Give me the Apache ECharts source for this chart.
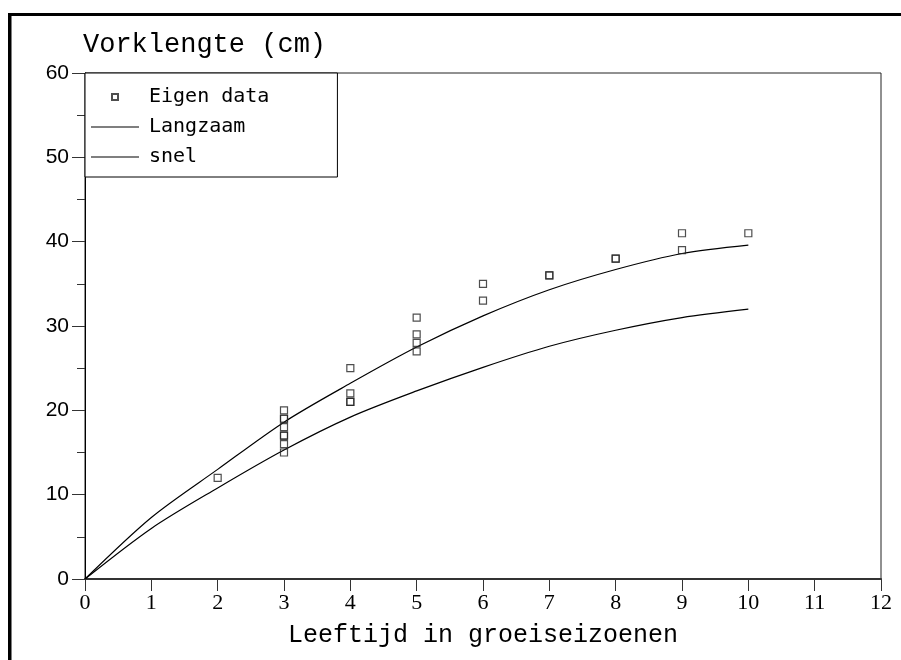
<!DOCTYPE html>
<html>
<head>
<meta charset="utf-8">
<script src="https://cdn.jsdelivr.net/npm/echarts@6/dist/echarts.min.js"></script>
<style>
  html, body { margin: 0; padding: 0; background: #fff; }
  #chart { width: 901px; height: 660px; }
</style>
</head>
<body>
<div id="chart"></div>
<script>
// Age in growing seasons
const ages = [0, 1, 2, 3, 4, 5, 6, 7, 8, 9, 10];
// Fork length (cm) of the two growth curves
const langzaam = [0, 7.3, 13.0, 18.6, 23.2, 27.5, 31.2, 34.3, 36.7, 38.6, 39.6];
const snel = [0, 6.0, 10.8, 15.3, 19.2, 22.3, 25.1, 27.6, 29.5, 31.0, 32.0];
// Own measurements: age and fork length
const eigenAge = [2, 3, 3, 3, 3, 3, 3, 3, 3, 4, 4, 4, 4, 5, 5, 5, 5, 6, 6, 7, 7, 8, 8, 9, 9, 10];
const eigenLen = [12, 20, 19, 19, 18, 17, 17, 16, 15, 25, 22, 21, 21, 31, 29, 28, 27, 35, 33, 36, 36, 38, 38, 41, 39, 41];
// Axis ticks
const xTicks = [0, 12, 1];
const yTicks = [0, 60, 10];

const chart = echarts.init(document.getElementById('chart'), null, { renderer: 'canvas' });

const curve = (arr) => ages.map((a, i) => [a, arr[i]]);
const points = eigenAge.map((a, i) => [a, eigenLen[i]]);

// thin horizontal bar used as the legend swatch for the curves
const lineIcon = 'path://M0,0M48,14M0,6.4L48,6.4L48,7.6L0,7.6Z';

chart.setOption({
  animation: false,
  backgroundColor: '#fff',
  title: {
    text: 'Vorklengte (cm)',
    left: 83,
    top: 31,
    padding: 0,
    textStyle: { fontFamily: 'Liberation Mono', fontSize: 27, fontWeight: 'normal', color: '#000' }
  },
  graphic: [
    { type: 'rect', shape: { x: 8, y: 13, width: 893, height: 3 }, style: { fill: '#000' }, silent: true },
    { type: 'rect', shape: { x: 8, y: 13, width: 3.5, height: 647 }, style: { fill: '#000' }, silent: true }
  ],
  grid: {
    left: 85, right: 20, top: 73, bottom: 81,
    show: true, borderColor: '#222', borderWidth: 1, backgroundColor: 'transparent'
  },
  legend: {
    orient: 'vertical',
    left: 85, top: 73,
    padding: [14, 68, 10, 5],
    itemGap: 10,
    itemWidth: 48,
    itemHeight: 14,
    borderColor: '#000',
    borderWidth: 1,
    backgroundColor: '#fff',
    textStyle: { fontFamily: 'DejaVu Sans Mono', fontSize: 20, color: '#000', padding: [0, 0, 0, 5], lineHeight: 20 },
    data: [
      { name: 'Eigen data', icon: 'path://M0,0M48,14M21,4L27,4L27,10L21,10Z' },
      { name: 'Langzaam', icon: lineIcon, itemStyle: { color: '#000' } },
      { name: 'snel', icon: lineIcon, itemStyle: { color: '#000' } }
    ]
  },
  xAxis: {
    type: 'value',
    min: xTicks[0], max: xTicks[1], interval: xTicks[2],
    name: 'Leeftijd in groeiseizoenen',
    nameLocation: 'middle',
    nameGap: 44,
    nameTextStyle: { fontFamily: 'Liberation Mono', fontSize: 25, color: '#000' },
    axisLine: { show: true, onZero: false, lineStyle: { color: '#333', width: 2 } },
    axisTick: { show: true, inside: false, length: 12, lineStyle: { color: '#333', width: 1 } },
    axisLabel: { margin: 13, fontFamily: 'Liberation Serif', fontSize: 22, color: '#000' },
    splitLine: { show: false }
  },
  yAxis: {
    type: 'value',
    min: yTicks[0], max: yTicks[1], interval: yTicks[2],
    axisLine: { show: true, onZero: false, lineStyle: { color: '#000', width: 1 } },
    axisTick: { show: true, inside: false, length: 13, lineStyle: { color: '#333', width: 1 } },
    minorTick: { show: true, splitNumber: 2, length: 8, lineStyle: { color: '#333', width: 1 } },
    axisLabel: { margin: 16, fontFamily: 'Liberation Sans', fontSize: 21, color: '#000' },
    splitLine: { show: false }
  },
  series: [
    {
      name: 'Eigen data',
      type: 'scatter',
      data: points,
      symbol: 'rect',
      symbolSize: 7,
      itemStyle: { color: 'rgba(255,255,255,0)', borderColor: '#222', borderWidth: 1.2 },
      z: 3
    },
    {
      name: 'Langzaam',
      type: 'line',
      data: curve(langzaam),
      smooth: 0.3,
      symbol: 'none',
      lineStyle: { color: '#000', width: 1.2 },
      itemStyle: { color: '#000' }
    },
    {
      name: 'snel',
      type: 'line',
      data: curve(snel),
      smooth: 0.3,
      symbol: 'none',
      lineStyle: { color: '#000', width: 1.2 },
      itemStyle: { color: '#000' }
    }
  ]
});
</script>
</body>
</html>
